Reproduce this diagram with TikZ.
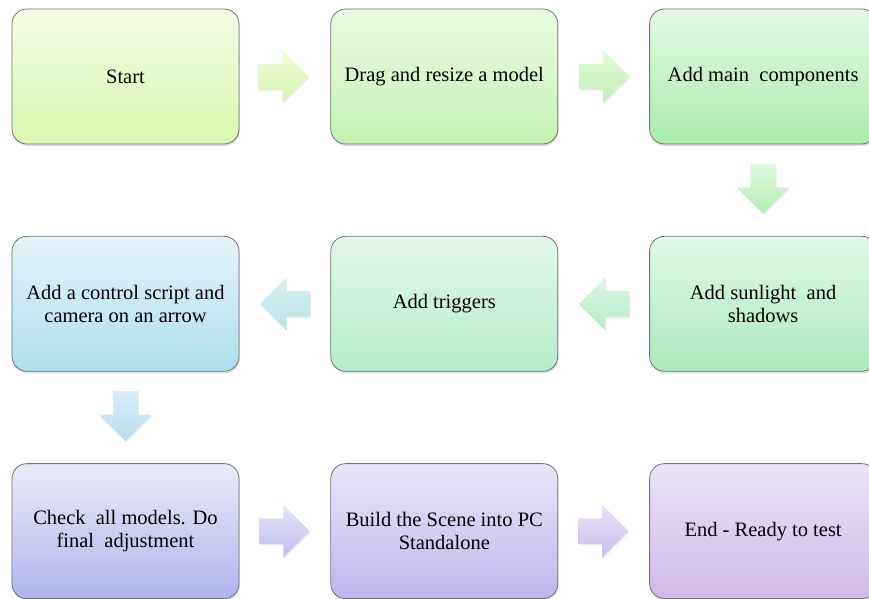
\documentclass[tikz,border=0pt]{standalone}
\usepackage{fontspec}
\setmainfont{Liberation Serif}
\usepackage{xcolor}
\usepackage{tikz}
\usetikzlibrary{positioning,shapes.arrows,shadows}

\definecolor{startT}{HTML}{F4FCE4}\definecolor{startB}{HTML}{D8F7AE}
\definecolor{dragT}{HTML}{EBFBE2}\definecolor{dragB}{HTML}{C4F2B2}
\definecolor{mainT}{HTML}{E4FAE4}\definecolor{mainB}{HTML}{A9ECAB}
\definecolor{sunT}{HTML}{E2F8E8}\definecolor{sunB}{HTML}{A9EABC}
\definecolor{trigT}{HTML}{E4F7EA}\definecolor{trigB}{HTML}{B3EDCB}
\definecolor{ctrlT}{HTML}{E4F3F8}\definecolor{ctrlB}{HTML}{ADE0EE}
\definecolor{checkT}{HTML}{E9EBF8}\definecolor{checkB}{HTML}{B1B4EE}
\definecolor{buildT}{HTML}{E9E6F8}\definecolor{buildB}{HTML}{BFB5EE}
\definecolor{endT}{HTML}{ECE4F6}\definecolor{endB}{HTML}{CDB9EA}
% arrow colours
\definecolor{aoneT}{HTML}{EEFBD6}\definecolor{aoneB}{HTML}{D6F5B0}
\definecolor{atwoT}{HTML}{E3F9DA}\definecolor{atwoB}{HTML}{C2F0B5}
\definecolor{athreeT}{HTML}{E0F9DF}\definecolor{athreeB}{HTML}{B4EEB2}
\definecolor{afourT}{HTML}{DDF6E6}\definecolor{afourB}{HTML}{B2ECC5}
\definecolor{afiveT}{HTML}{D8F0F0}\definecolor{afiveB}{HTML}{B6E4E6}
\definecolor{asixT}{HTML}{DCEEF8}\definecolor{asixB}{HTML}{B6DCEE}
\definecolor{asevenT}{HTML}{E4E4F8}\definecolor{asevenB}{HTML}{C2BEEE}
\definecolor{aeightT}{HTML}{E9E2F8}\definecolor{aeightB}{HTML}{CDBDEE}

\begin{document}
\begin{tikzpicture}[
    node distance=91.5pt and 91pt,
    box/.style={draw=black!55, line width=0.8pt, rounded corners=15pt, align=center,
        minimum width=227pt, minimum height=135pt, inner sep=6pt,
        font=\fontsize{20.5}{23}\selectfont,
        drop shadow={opacity=0.25, shadow xshift=0.8pt, shadow yshift=-2pt}},
    blockarrow/.style={single arrow, draw=none, inner sep=12.5pt,
        text width=0pt, text height=0pt, text depth=0pt,
        minimum height=50pt, minimum width=52pt, single arrow head extend=13.5pt,
        single arrow tip angle=90,
        drop shadow={opacity=0.15, shadow xshift=0.8pt, shadow yshift=-1.5pt}},
    shade2/.style n args={2}{top color=#1, bottom color=#2}
]
\useasboundingbox (-125.5pt,76.5pt) rectangle ++(869pt,-598pt);
% top row
\node[box, shade2={startT}{startB}] (start) at (0,0) {Start};
\node[box, shade2={dragT}{dragB}, right=of start] (drag) {Drag and resize a model};
\node[box, shade2={mainT}{mainB}, right=of drag] (mainparts) {Add main\ \ components};
% middle row
\node[box, shade2={sunT}{sunB}, below=of mainparts] (sunlight) {Add sunlight\ \ and\\shadows};
\node[box, shade2={trigT}{trigB}, left=of sunlight] (triggers) {Add triggers};
\node[box, shade2={ctrlT}{ctrlB}, left=of triggers] (control) {Add a control script and\\camera on an arrow};
% bottom row
\node[box, shade2={checkT}{checkB}, below=of control] (check) {Check\ \ all models. Do\\final\ \ adjustment};
\node[box, shade2={buildT}{buildB}, right=of check] (build) {Build the Scene into PC\\Standalone};
\node[box, shade2={endT}{endB}, right=of build] (finish) {End - Ready to test};

% block arrows between the boxes
\node[blockarrow, shade2={aoneT}{aoneB}, right=19pt of start] (a1) {};
\node[blockarrow, shade2={atwoT}{atwoB}, right=21pt of drag] (a2) {};
\node[blockarrow, shape border rotate=270, shade2={athreeT}{athreeB}, below=19pt of mainparts] (a3) {};
\node[blockarrow, shape border rotate=180, shade2={afourT}{afourB}, left=20pt of sunlight] (a4) {};
\node[blockarrow, shape border rotate=180, shade2={afiveT}{afiveB}, left=20pt of triggers] (a5) {};
\node[blockarrow, shape border rotate=270, shade2={asixT}{asixB}, below=19pt of control] (a6) {};
\node[blockarrow, shade2={asevenT}{asevenB}, right=20pt of check] (a7) {};
\node[blockarrow, shade2={aeightT}{aeightB}, right=20pt of build] (a8) {};
\end{tikzpicture}
\end{document}
